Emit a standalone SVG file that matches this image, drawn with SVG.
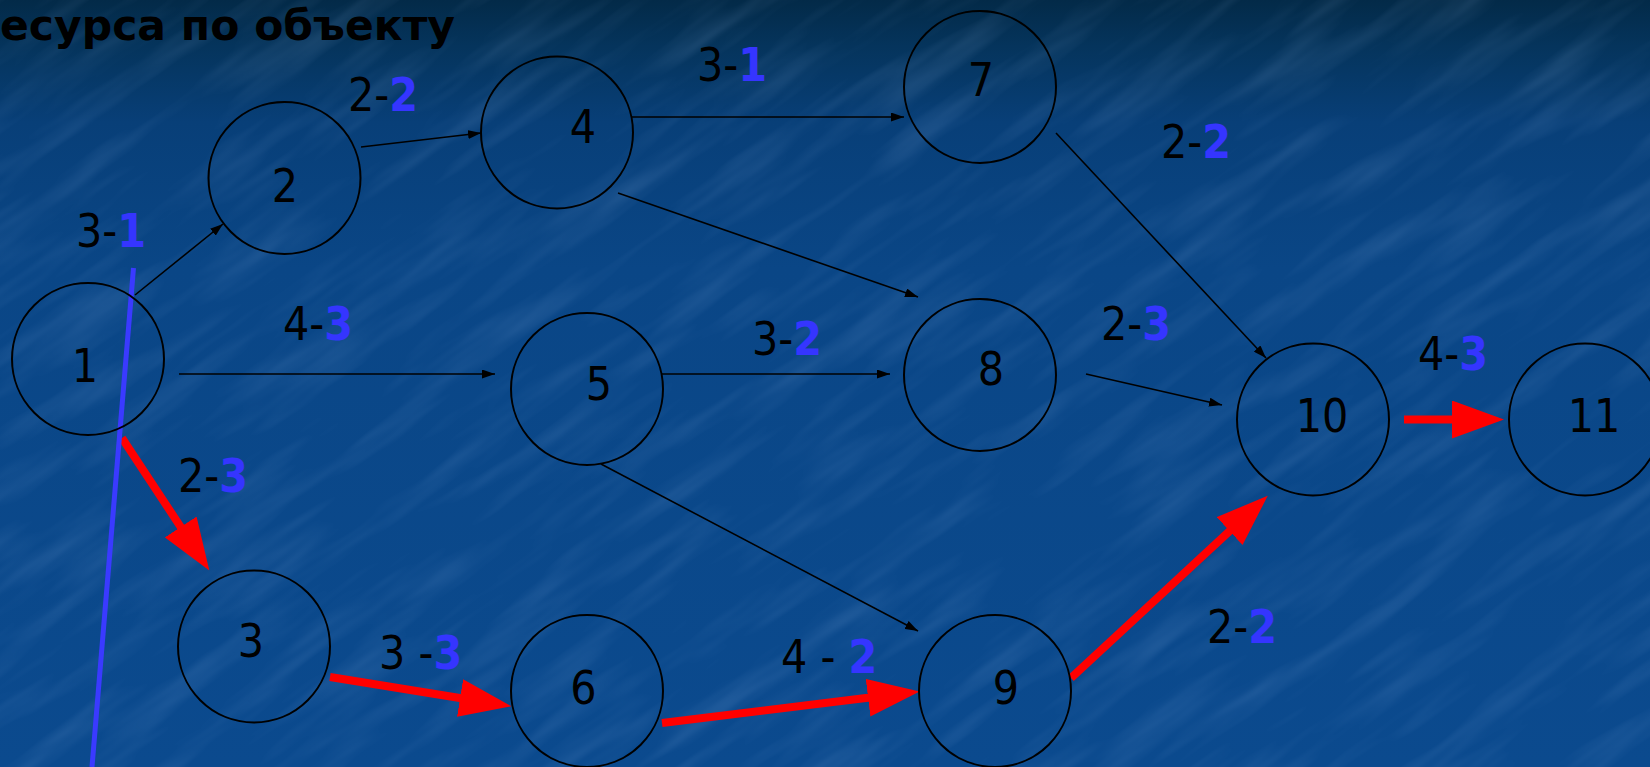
<svg xmlns="http://www.w3.org/2000/svg" width="1650" height="767" viewBox="0 0 1650 767">
<defs>
<linearGradient id="bg" x1="0" y1="0" x2="0" y2="1">
<stop offset="0" stop-color="#032a48"/>
<stop offset="0.06" stop-color="#05345c"/>
<stop offset="0.16" stop-color="#083f78"/>
<stop offset="0.35" stop-color="#0a4686"/>
<stop offset="1" stop-color="#0b4a8e"/>
</linearGradient>
<filter id="tex" x="0" y="0" width="100%" height="100%">
<feTurbulence type="fractalNoise" baseFrequency="0.006 0.04" numOctaves="3" seed="7"/>
<feColorMatrix type="matrix" values="0 0 0 0 0.45  0 0 0 0 0.65  0 0 0 0 1  0 0 0 1.6 -0.72"/>
</filter>
<marker id="ah" markerUnits="userSpaceOnUse" markerWidth="13" markerHeight="9" refX="13" refY="4.5" orient="auto">
<path d="M0,0 L13,4.5 L0,9 z" fill="#000"/>
</marker>
<marker id="rh" markerUnits="userSpaceOnUse" markerWidth="52" markerHeight="38" refX="6" refY="19" orient="auto">
<path d="M0,0 L52,19 L0,38 z" fill="#ff0000"/>
</marker>
<style>
.node{fill:none;stroke:#000;stroke-width:2}
.nl{font-family:'DejaVu Sans Condensed','DejaVu Sans',sans-serif;font-size:46px;fill:#000;text-anchor:middle}
.el{font-family:'DejaVu Sans Condensed','DejaVu Sans',sans-serif;font-size:46px;fill:#000}
.b{font-weight:bold;fill:#3535ff}
.thin{stroke:#000;stroke-width:1.6;fill:none;marker-end:url(#ah)}
.red{stroke:#ff0000;stroke-width:8;fill:none;marker-end:url(#rh)}
.title{font-family:'DejaVu Sans','Liberation Sans',sans-serif;font-weight:bold;font-size:42.5px;fill:#000;text-anchor:end}
</style>
</defs>
<rect x="0" y="0" width="1650" height="767" fill="url(#bg)"/>
<g opacity="0.16">
<rect x="-600" y="-900" width="2900" height="2600" filter="url(#tex)" transform="rotate(-35 825 383)"/>
</g>
<text class="title" x="455" y="40">есурса по объекту</text>

<g id="connectors">
<line class="thin" x1="135" y1="295" x2="223" y2="224"/>
<line class="thin" x1="361" y1="147" x2="481" y2="133"/>
<line class="thin" x1="632" y1="117" x2="904" y2="117"/>
<line class="thin" x1="618" y1="193" x2="918" y2="297"/>
<line class="thin" x1="179" y1="374" x2="495" y2="374"/>
<line class="thin" x1="662" y1="374" x2="890" y2="374"/>
<line class="thin" x1="601" y1="464" x2="918" y2="631"/>
<line class="thin" x1="1056" y1="133" x2="1266" y2="358"/>
<line class="thin" x1="1086" y1="374" x2="1222" y2="405"/>
<line class="red" x1="122" y1="438" x2="184" y2="532"/>
<line class="red" x1="330" y1="677" x2="466" y2="699"/>
<line class="red" x1="662" y1="723" x2="874" y2="697"/>
<line class="red" x1="1071" y1="678" x2="1234" y2="527"/>
<line class="red" x1="1404" y1="419.5" x2="1458" y2="419.5"/>
<line x1="133.5" y1="268" x2="92" y2="767" stroke="#3a3aff" stroke-width="5"/>
</g>

<g id="edge-labels">
<text class="el" x="76" y="247">3-<tspan class="b">1</tspan></text>
<text class="el" x="348" y="111">2-<tspan class="b">2</tspan></text>
<text class="el" x="697" y="81">3-<tspan class="b">1</tspan></text>
<text class="el" x="1161" y="158">2-<tspan class="b">2</tspan></text>
<text class="el" x="283" y="340">4-<tspan class="b">3</tspan></text>
<text class="el" x="752" y="355">3-<tspan class="b">2</tspan></text>
<text class="el" x="1101" y="340">2-<tspan class="b">3</tspan></text>
<text class="el" x="1418" y="370">4-<tspan class="b">3</tspan></text>
<text class="el" x="178" y="492">2-<tspan class="b">3</tspan></text>
<text class="el" x="379" y="669">3 -<tspan class="b">3</tspan></text>
<text class="el" x="781" y="673">4 - <tspan class="b">2</tspan></text>
<text class="el" x="1207" y="643">2-<tspan class="b">2</tspan></text>
</g>

<g id="n1"><circle class="node" cx="88" cy="359" r="76"/><text class="nl" x="85" y="382">1</text></g>
<g id="n2"><circle class="node" cx="284.5" cy="178" r="76"/><text class="nl" x="285" y="202">2</text></g>
<g id="n3"><circle class="node" cx="254" cy="646.5" r="76"/><text class="nl" x="251" y="657">3</text></g>
<g id="n4"><circle class="node" cx="557" cy="132.5" r="76"/><text class="nl" x="583" y="143">4</text></g>
<g id="n5"><circle class="node" cx="587" cy="389" r="76"/><text class="nl" x="599" y="400">5</text></g>
<g id="n6"><circle class="node" cx="587" cy="691" r="76"/><text class="nl" x="583.5" y="704">6</text></g>
<g id="n7"><circle class="node" cx="980" cy="87" r="76"/><text class="nl" x="981" y="96">7</text></g>
<g id="n8"><circle class="node" cx="980" cy="375" r="76"/><text class="nl" x="991" y="385">8</text></g>
<g id="n9"><circle class="node" cx="995" cy="691" r="76"/><text class="nl" x="1006" y="704">9</text></g>
<g id="n10"><circle class="node" cx="1313" cy="419.5" r="76"/><text class="nl" x="1322" y="432">10</text></g>
<g id="n11"><circle class="node" cx="1585" cy="419.5" r="76"/><text class="nl" x="1594" y="432">11</text></g>
</svg>
